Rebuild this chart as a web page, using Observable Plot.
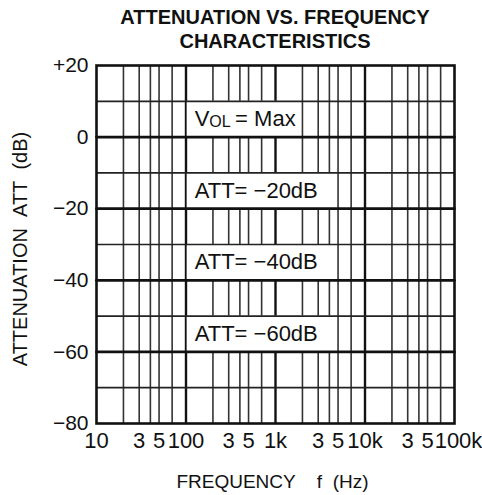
<!DOCTYPE html>
<html><head><meta charset="utf-8">
<script src="https://cdn.jsdelivr.net/npm/d3@7"></script>
<script src="https://cdn.jsdelivr.net/npm/@observablehq/plot@0.6"></script>
<style>
body{margin:0;background:#fff;}
#title{width:482px;height:48px;box-sizing:border-box;padding-top:5px;padding-left:68px;text-align:center;font:bold 20px/24px "Liberation Sans",Arial,sans-serif;color:#111;overflow:visible;}
#chart svg{display:block;}
</style></head><body>
<div id="title">ATTENUATION VS. FREQUENCY<br>CHARACTERISTICS</div>
<div id="chart"></div>
<script>
// ---- data ----
const freqPoints = [10, 100, 1000, 10000, 100000];           // Hz
const volMaxDb = [0, 0, 0, 0, 0];                             // VOL = Max
const att20Db  = [-20, -20, -20, -20, -20];                   // ATT = -20dB
const att40Db  = [-40, -40, -40, -40, -40];                   // ATT = -40dB
const att60Db  = [-60, -60, -60, -60, -60];                   // ATT = -60dB
const seriesNames = ["VOL = Max", "ATT= \u221220dB", "ATT= \u221240dB", "ATT= \u221260dB"];
const seriesValues = [volMaxDb, att20Db, att40Db, att60Db];
const labelLevels = [0, -20, -40, -60];
const labelFreq = 125;                                        // Hz, where labels start
const labelBoxEnd = [1950, 4500, 4500, 4500];                 // Hz

const xTicks = [10, 30, 50, 100, 300, 500, 1000, 3000, 5000, 10000, 30000, 50000, 100000];
const xTickLabels = ["10", "3", "5", "100", "3", "5", "1k", "3", "5", "10k", "3", "5", "100k"];
const yTicks = [20, 0, -20, -40, -60, -80];
const yMinorGrid = [10, -10, -30, -50, -70];
const xGrid = [20, 30, 40, 50, 70, 200, 300, 400, 500, 700, 2000, 3000, 4000, 5000, 7000, 20000, 30000, 40000, 50000, 70000];
const xDecades = [100, 1000, 10000];

// ---- build tables ----
const lineData = seriesValues.flatMap((vals, s) =>
  vals.map((v, i) => ({series: seriesNames[s], f: freqPoints[i], db: v})));
const labels = seriesNames.map((t, i) => ({
  text: t, f: labelFreq, db: labelLevels[i] + 5,
  x1: 103, x2: labelBoxEnd[i], y1: labelLevels[i], y2: labelLevels[i] + 10
}));
const xTickTable = xTicks.map((t, i) => ({f: t, label: xTickLabels[i]}));
const font = "Liberation Sans, Arial, sans-serif";

const plot = Plot.plot({
  width: 482,
  height: 447,
  marginTop: 17,
  marginBottom: 72,
  marginLeft: 96,
  marginRight: 28,
  style: {fontFamily: font, fontSize: "20px", color: "#111", background: "transparent", overflow: "visible"},
  x: {type: "log", domain: [10, 100000], axis: null},
  y: {domain: [-80, 20], axis: null},
  marks: [
    Plot.ruleX(xGrid, {stroke: "#333", strokeWidth: 1.6}),
    Plot.ruleX(xDecades, {stroke: "#111", strokeWidth: 2.4}),
    Plot.rect(labels, {x1: "x1", x2: "x2", y1: "y1", y2: "y2", fill: "white"}),
    Plot.ruleY(yMinorGrid, {stroke: "#222", strokeWidth: 1.7}),
    Plot.line(lineData, {x: "f", y: "db", z: "series", stroke: "#111", strokeWidth: 2.8}),
    Plot.text(labels, {x: "f", y: "db", text: "text", textAnchor: "start", fontSize: 22, fill: "#111", fontFamily: font}),
    Plot.frame({stroke: "#111", strokeWidth: 2.6}),
    Plot.text(yTicks, {y: d => d, frameAnchor: "left", textAnchor: "end", lineAnchor: "middle", dx: -8, fontSize: 21, fill: "#111",
      text: d => d > 0 ? "+" + d : d < 0 ? "\u2212" + Math.abs(d) : "0"}),
    Plot.text(xTickTable, {x: "f", text: "label", frameAnchor: "bottom", textAnchor: "middle", lineAnchor: "top", dy: 9, fontSize: 22, fill: "#111"}),
    Plot.text(["FREQUENCY\u00a0\u00a0\u00a0\u00a0f\u00a0\u00a0(Hz)"], {frameAnchor: "bottom", textAnchor: "middle", lineAnchor: "middle", dy: 58, dx: -3, fontSize: 19, fill: "#111"}),
    Plot.text(["ATTENUATION\u00a0\u00a0ATT\u00a0\u00a0(dB)"], {frameAnchor: "left", textAnchor: "middle", lineAnchor: "middle", rotate: -90, dx: -75.5, dy: 4.5, fontSize: 20, fill: "#111"})
  ]
});

// subscript "OL" in VOL, and nudge the last tick label like the original
const svg = d3.select(plot);
svg.selectAll("text").filter(function() { return this.textContent === "VOL = Max"; })
  .each(function() {
    const t = d3.select(this);
    t.text(null);
    t.append("tspan").text("V");
    t.append("tspan").attr("font-size", 16).attr("dy", 1).text("OL");
    t.append("tspan").attr("dy", -1).text("\u2009= Max");
  });
svg.selectAll("text").filter(function() { return this.textContent === "100k"; }).attr("dx", 4);

document.getElementById("chart").appendChild(plot);
</script>
</body></html>
